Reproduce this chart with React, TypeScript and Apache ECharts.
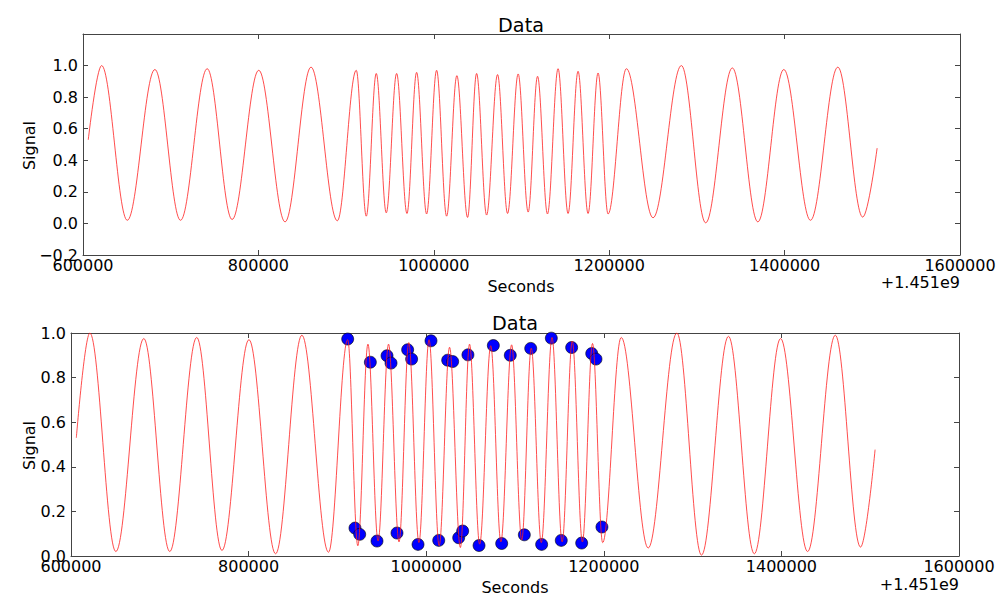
import React, { useEffect, useRef } from "react";
import * as echarts from "echarts";

// Signal turning points (seconds past 1.451e9) plus the first and last samples
const signalTimes = [
  606000, 621200, 650500, 682000, 711200, 741600, 770000, 800400, 830400, 860000,
  890000, 911600, 923000, 934400, 945800, 957600, 969400, 980400, 991800, 1003200,
  1014600, 1026300, 1038500, 1048800, 1060200, 1072700, 1084100, 1096200, 1107600, 1118300,
  1129600, 1141700, 1153100, 1164500, 1175900, 1187300, 1198700, 1219600, 1250000, 1282300,
  1310000, 1340400, 1369500, 1399100, 1429500, 1460700, 1489100, 1505500,
];
const signalValues = [
  0.53, 1.0, 0.02, 0.975, 0.02, 0.98, 0.025, 0.97, 0.01, 0.99,
  0.017, 0.97, 0.046, 0.95, 0.067, 0.95, 0.063, 0.957, 0.06, 0.97,
  0.046, 0.936, 0.038, 0.95, 0.053, 0.943, 0.063, 0.947, 0.072, 0.932,
  0.06, 0.98, 0.063, 0.964, 0.063, 0.953, 0.06, 0.98, 0.036, 1.0,
  0.004, 0.985, 0.01, 0.975, 0.02, 0.99, 0.04, 0.477,
];

// Detected extrema in the fast-oscillation stretch
const peakTimes = [
  911600, 919800, 925100, 937100, 944600, 955900, 960400, 967100, 979100, 983600,
  990800, 1005400, 1014100, 1024200, 1029800, 1036600, 1041100, 1047000, 1059500, 1075600,
  1085000, 1094700, 1110500, 1117700, 1130000, 1140900, 1152100, 1163800, 1175100, 1186400,
  1191200, 1197900,
];
const peakValues = [
  0.973, 0.125, 0.097, 0.869, 0.067, 0.898, 0.865, 0.103, 0.925, 0.883,
  0.052, 0.965, 0.07, 0.878, 0.872, 0.082, 0.112, 0.902, 0.047, 0.944,
  0.056, 0.9, 0.095, 0.931, 0.052, 0.977, 0.07, 0.935, 0.058, 0.908,
  0.883, 0.13,
];

const xTicks = [600000, 800000, 1000000, 1200000, 1400000, 1600000];
const yTicksTop = [-0.2, 0.0, 0.2, 0.4, 0.6, 0.8, 1.0, 1.2];
const yTicksBottom = [0.0, 0.2, 0.4, 0.6, 0.8, 1.0];

const OFFSET_TEXT = "+1.451e9";
const TITLE = "Data";
const X_NAME = "Seconds";
const Y_NAME = "Signal";

const FONT = "DejaVu Sans";
const FRAME = "#444";

function xAxis(gridIndex: number, position: string, labels: boolean) {
  return {
    type: "value",
    gridIndex,
    position,
    min: xTicks[0],
    max: xTicks[xTicks.length - 1],
    interval: xTicks[1] - xTicks[0],
    axisLine: { show: true, onZero: false, lineStyle: { color: FRAME, width: 1 } },
    axisTick: { show: true, inside: true, length: 5, lineStyle: { color: FRAME, width: 1 } },
    axisLabel: {
      show: labels,
      margin: 2,
      fontFamily: FONT,
      fontSize: 16,
      color: "#000",
      formatter: (v: number) => String(Math.round(v)),
    },
    splitLine: { show: false },
  };
}

function yAxis(gridIndex: number, position: string, labels: boolean, ticks: number[], showMax: boolean) {
  return {
    type: "value",
    gridIndex,
    position,
    min: ticks[0],
    max: ticks[ticks.length - 1],
    interval: 0.2,
    axisLine: { show: true, onZero: false, lineStyle: { color: FRAME, width: 1 } },
    axisTick: { show: true, inside: true, length: 5, lineStyle: { color: FRAME, width: 1 } },
    axisLabel: {
      show: labels,
      showMaxLabel: showMax,
      margin: 5,
      fontFamily: FONT,
      fontSize: 16,
      color: "#000",
      formatter: (v: number) => {
        const r = Math.abs(v) < 1e-9 ? 0 : v;
        return r.toFixed(1).replace("-", "\u2212");
      },
    },
    splitLine: { show: false },
  };
}

function text(x: number, y: number, str: string, size: number, align: string, rotation = 0) {
  return {
    type: "text",
    x,
    y,
    rotation,
    silent: true,
    style: {
      text: str,
      fontFamily: FONT,
      fontSize: size,
      fill: "#000",
      textAlign: align,
      textVerticalAlign: "middle",
    },
  };
}

export default function App() {
  const ref = useRef<HTMLDivElement>(null);

  useEffect(() => {
    if (!ref.current) return;
    const chart = echarts.init(ref.current, undefined, { renderer: "svg" });
    const signal = signalTimes.map((t, i) => [t, signalValues[i]]);
    const peaks = peakTimes.map((t, i) => [t, peakValues[i]]);

    const lineSeries = (axis: number) => ({
      type: "line",
      xAxisIndex: axis,
      yAxisIndex: axis,
      data: signal,
      symbol: "none",
      showSymbol: false,
      smooth: 0.36,
      smoothMonotone: "x",
      silent: true,
      lineStyle: { color: "#ff2020", width: 0.8 },
    });

    chart.setOption({
      animation: false,
      backgroundColor: "#fff",
      grid: [
        { left: 83, top: 34, width: 877, height: 221 },
        { left: 71, top: 333, width: 888, height: 223 },
      ],
      xAxis: [
        xAxis(0, "bottom", true),
        xAxis(0, "top", false),
        xAxis(1, "bottom", true),
        xAxis(1, "top", false),
      ],
      yAxis: [
        yAxis(0, "left", true, yTicksTop, false),
        yAxis(0, "right", false, yTicksTop, false),
        yAxis(1, "left", true, yTicksBottom, true),
        yAxis(1, "right", false, yTicksBottom, true),
      ],
      series: [
        lineSeries(0),
        lineSeries(2),
        {
          type: "scatter",
          xAxisIndex: 2,
          yAxisIndex: 2,
          data: peaks,
          symbol: "circle",
          symbolSize: 12,
          silent: true,
          itemStyle: { color: "#0000ff", borderColor: "#000", borderWidth: 0.6, opacity: 1 },
        },
      ],
      graphic: [
        text(521, 25.6, TITLE, 19.2, "center"),
        text(521, 286, X_NAME, 16, "center"),
        text(960, 282.7, OFFSET_TEXT, 16, "right"),
        text(29, 145.5, Y_NAME, 16, "center", Math.PI / 2),
        text(515, 323.3, TITLE, 19.2, "center"),
        text(515, 587, X_NAME, 16, "center"),
        text(959, 584.4, OFFSET_TEXT, 16, "right"),
        text(29, 445.5, Y_NAME, 16, "center", Math.PI / 2),
      ],
    });
    return () => chart.dispose();
  }, []);

  return (
    <div
      ref={ref}
      style={{ position: "absolute", left: 0, top: 0, width: 1003, height: 606 }}
    />
  );
}
